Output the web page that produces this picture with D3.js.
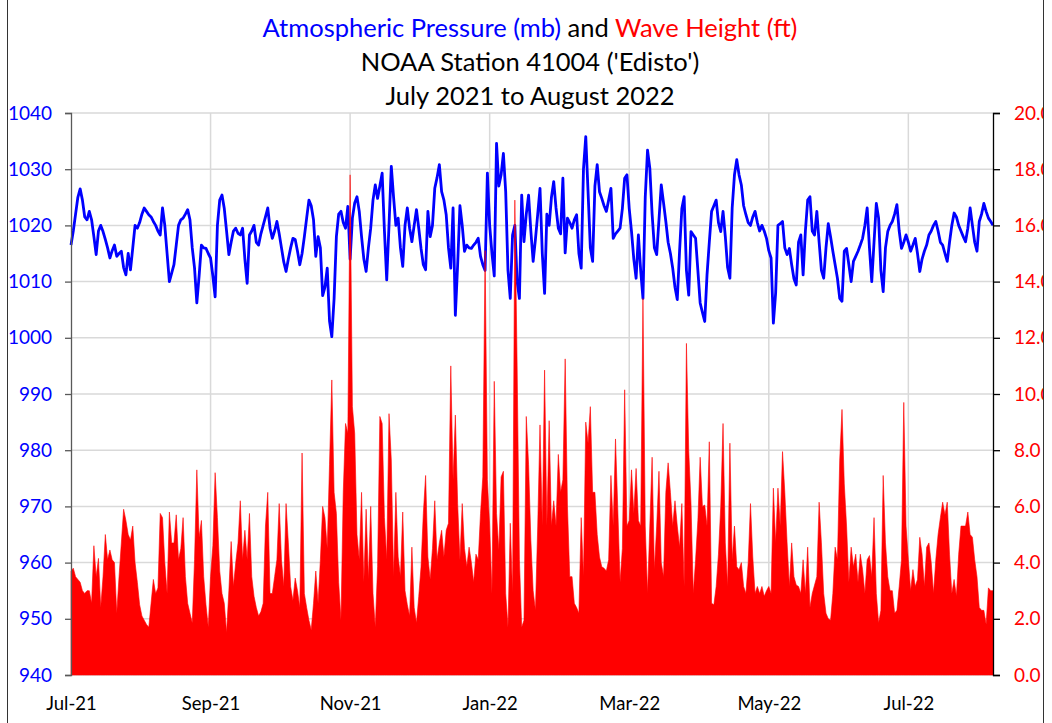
<!DOCTYPE html>
<html>
<head>
<meta charset="utf-8">
<script src="https://cdn.jsdelivr.net/npm/d3@7/dist/d3.min.js"></script>
<style>
  html, body { margin: 0; padding: 0; background: #fff; }
  svg { display: block; }
  text { font-family: Lato, "Noto Sans", sans-serif; }
</style>
</head>
<body>
<svg id="chart" width="1052" height="723"></svg>
<script>
// Daily readings at NOAA buoy 41004, day 0 = 1 July 2021
const pressureMb = [
1016.5,1019,1022,1025,1026.5,1024.5,1021.5,1021,1022.5,1021,1018,1014.8,1019,1020,1018.9,1017.5,1016,1014.2,1015.5,1016.5,
1014.5,1015,1015.4,1012.5,1011.2,1015,1012.1,1016,1020,1019.5,1020.5,1022,1023.1,1022.5,1021.9,1021.5,1020.7,1020,1019,1018.3,
1023.1,1020,1015,1010,1011.5,1013,1016.5,1020,1021,1021.3,1022,1022.8,1021,1016,1012.4,1006.2,1011,1016.5,1016,1015.9,
1015,1014.2,1011,1007.3,1020,1024.5,1025.4,1023,1019,1014.8,1017,1019,1019.5,1018.6,1018.3,1019.5,1014,1009.7,1018.3,1019,
1020,1017,1016.5,1018.5,1020,1021.5,1023.1,1019.5,1017.7,1019,1020.7,1018.5,1016,1013.5,1011.8,1014,1016,1017.7,1017.5,1015.4,
1013,1015,1018,1021.3,1024.5,1023.5,1021,1014.5,1018,1016,1007.5,1009,1012.4,1003,1000.2,1007,1018,1022,1022.5,1020.5,
1019.5,1023.4,1014,1021.3,1024,1025.1,1022.5,1018,1014,1011.8,1016,1019.5,1024.5,1027.2,1024.8,1027,1029.3,1019,1010.3,1020,
1030.5,1025,1020,1021.3,1016,1012.7,1020,1023.1,1019.5,1017.1,1020,1022.8,1019.5,1015.9,1013,1012.1,1022.5,1018,1020,1026.6,
1028.5,1030.8,1026,1024.5,1021.9,1016,1012.4,1023.1,1004,1013,1023.5,1020,1015.4,1016.5,1016,1015.9,1016.5,1017,1017.7,1014.5,
1013,1012,1029.3,1020,1015,1011,1034.6,1027,1029,1032.8,1026,1012,1007,1018.3,1020,1010,1007,1025.4,1017.1,1022,
1025.4,1019,1013.6,1017.5,1022,1026.6,1015,1007.9,1022,1020,1025,1027.8,1023.1,1019.5,1018.5,1028.4,1015.1,1021.3,1020.5,1019.5,
1021,1021.9,1015,1012.4,1030,1035.8,1026,1016,1013.6,1027,1030.8,1026,1024.8,1023.5,1022.5,1024.5,1026.6,1017.7,1018.5,1019,
1019.5,1023,1028.4,1029,1023,1018.9,1014,1010.6,1018.3,1012,1007,1025,1033.4,1030.2,1022,1016,1014.8,1021,1027.2,1024,
1020.7,1017,1015,1012.4,1009,1006.8,1015.4,1023,1025.1,1012,1007.6,1018.9,1018.3,1017.7,1012,1006.2,1004.5,1002.9,1011.2,1017,
1022.5,1023.5,1024.5,1020.5,1018.9,1022.5,1018,1012.5,1010.6,1023.1,1029,1031.7,1029,1027.2,1023.5,1021.9,1020.5,1020,1021.5,1022.5,
1020.5,1019,1020,1019,1017.7,1015.5,1014.2,1002.6,1008,1020,1020.3,1020.7,1016,1014.8,1015.9,1013,1010.5,1009.4,1017,1018.3,
1011.2,1019,1024.5,1025.1,1019,1018.3,1022.5,1017,1012,1010.6,1016,1020.3,1018,1015.4,1013,1010.6,1007,1006.5,1015.4,1015.9,
1013,1010,1013.6,1014.5,1015.4,1016.5,1017.7,1020,1023.1,1016,1010,1017,1023.9,1021.3,1012,1008.2,1016,1018.9,1020,1020.7,
1022,1023.7,1019,1015.9,1017,1018.3,1017,1015.4,1016.5,1017.7,1015,1011.8,1014,1015.4,1016.5,1018.3,1019,1020,1020.7,1019,
1017,1016.5,1015,1013.6,1017,1020,1022.2,1021.5,1020,1019,1018,1017.1,1019.5,1023.1,1020,1017,1015.4,1020.7,1022,1023.9,
1022.5,1021.3,1020.7,1020
];

const waveFt = [
3.7,3.8,3.5,3.4,3.3,3.0,2.9,3.0,3.0,2.55,4.6,3.5,4.15,2.4,3.5,5.0,4.1,4.45,4.1,4.0,
2.2,3.5,4.7,5.9,5.5,5.0,4.8,5.3,4.0,3.3,2.5,2.1,1.95,1.8,1.7,2.55,3.4,2.9,3.1,5.75,
5.6,4.0,2.9,5.8,4.7,4.7,5.7,4.1,4.5,5.6,3.5,2.55,2.2,1.85,4.1,7.3,4.9,5.5,3.5,2.5,
1.7,3.5,4.6,7.2,5.6,3.7,2.9,2.55,1.5,3.0,4.75,3.15,4.0,4.7,6.2,4.1,5.15,4.1,5.75,3.5,
2.8,2.4,2.1,2.25,2.55,5.3,6.5,2.9,2.9,3.5,4.1,6.1,4.1,3.15,6.1,4.7,3.15,2.65,3.45,3.0,
2.4,7.9,2.9,2.4,1.95,1.6,2.55,3.7,2.55,4.1,6.0,5.6,4.5,7.5,10.5,6.5,5.75,3.3,1.95,6.5,
8.95,8.6,17.8,9.55,8.6,5.0,4.1,6.5,3.3,5.9,3.4,6.0,2.9,1.7,3.85,9.2,8.95,5.6,4.1,9.3,
7.65,3.5,6.5,4.2,3.5,5.8,3.0,2.5,2.1,4.55,2.4,1.85,2.8,3.85,5.75,7.1,4.2,3.4,4.5,6.2,
4.1,4.7,5.15,4.2,5.15,5.4,11.0,6.95,9.25,6.1,4.1,6.1,4.5,3.85,4.55,4.0,3.3,4.3,4.1,5.75,
7.05,15.1,6.95,5.3,2.9,10.45,5.75,4.45,7.05,7.25,2.9,1.7,5.4,2.9,16.9,11.0,4.1,1.7,1.95,9.2,
7.5,4.8,3.0,2.3,5.3,8.9,5.3,10.85,5.3,9.05,5.3,6.2,5.3,7.85,6.5,6.95,11.25,6.0,3.5,3.5,
2.55,2.4,2.2,5.6,3.5,9.0,8.25,9.55,6.5,6.5,5.0,4.2,3.85,3.8,3.7,4.1,7.1,5.3,8.4,5.9,
3.3,4.5,10.15,5.3,5.5,7.3,5.75,7.35,5.5,5.3,13.4,5.3,2.9,5.3,7.75,3.75,5.3,7.25,4.0,3.5,
6.5,7.55,6.5,5.3,6.2,5.3,4.55,6.1,3.15,11.8,8.0,6.1,2.9,4.1,5.5,7.75,6.0,6.05,5.3,8.3,
2.55,2.5,3.15,4.3,6.0,8.95,4.7,3.15,8.25,4.1,5.3,3.85,3.75,4.0,3.15,2.9,4.0,6.1,4.2,2.9,
3.15,2.9,3.15,2.8,3.0,3.15,2.9,6.65,4.7,6.65,5.3,7.95,6.5,4.7,3.15,4.7,3.5,3.2,3.15,2.9,
4.1,2.9,4.55,2.4,2.9,3.2,3.5,6.15,4.7,2.9,2.2,2.0,1.95,2.9,4.55,4.1,7.65,9.45,6.8,5.3,
3.3,4.55,3.85,4.3,3.3,4.3,3.75,2.9,4.1,4.25,3.5,5.6,2.9,1.85,2.3,7.1,4.7,3.5,3.0,3.0,
2.2,2.3,3.15,4.1,9.7,5.3,4.1,3.0,3.75,3.15,3.4,4.9,4.3,3.15,4.55,4.7,4.0,2.9,4.1,5.0,
5.6,6.15,5.7,6.15,4.3,2.9,3.4,2.8,4.3,5.3,5.3,5.3,5.8,5.0,4.9,4.1,3.5,2.4,2.3,2.3,
1.8,3.1,3.0,3.0
];

// x-axis labels every 61 days from the start of the record
const xTickDays = [0, 61, 122, 183, 244, 305, 366];
const xTickLabels = ["Jul-21", "Sep-21", "Nov-21", "Jan-22", "Mar-22", "May-22", "Jul-22"];
const pressureTicks = [940, 950, 960, 970, 980, 990, 1000, 1010, 1020, 1030, 1040];
const waveTicks = [0, 2, 4, 6, 8, 10, 12, 14, 16, 18, 20];
const lastDay = 403;

const svg = d3.select("#chart");
const W = 1052, H = 723;
const m = { left: 71, right: 993, top: 113, bottom: 675 };

const x = d3.scaleLinear().domain([0, lastDay]).range([m.left, m.right]);
const yP = d3.scaleLinear().domain([940, 1040]).range([m.bottom, m.top]);
const yW = d3.scaleLinear().domain([0, 20]).range([m.bottom, m.top]);

const clip = svg.append("defs").append("clipPath").attr("id", "frameClip");
clip.append("rect").attr("x", 7).attr("y", 0).attr("width", 1036).attr("height", H);

const root = svg.append("g").attr("clip-path", "url(#frameClip)");

// gridlines
const grid = root.append("g");
grid.selectAll("line.h").data(pressureTicks).join("line")
  .attr("x1", m.left).attr("x2", m.right)
  .attr("y1", d => yP(d)).attr("y2", d => yP(d))
  .attr("stroke", "#d9d9d9").attr("stroke-width", 1.5);
grid.selectAll("line.v").data(xTickDays.slice(1)).join("line")
  .attr("x1", d => x(d)).attr("x2", d => x(d))
  .attr("y1", m.top).attr("y2", m.bottom)
  .attr("stroke", "#d9d9d9").attr("stroke-width", 1.5);

// pressure line
const pLine = d3.line().x((d, i) => x(i)).y(d => yP(d));
root.append("path").datum(pressureMb)
  .attr("d", pLine)
  .attr("fill", "none").attr("stroke", "#0000ff").attr("stroke-width", 2.8)
  .attr("stroke-linejoin", "round");

// wave height area
const wArea = d3.area().x((d, i) => x(i)).y0(yW(0)).y1(d => yW(d));
root.append("path").datum(waveFt)
  .attr("d", wArea)
  .attr("fill", "#ff0000").attr("stroke", "#ff0000").attr("stroke-width", 0.6);

// left axis
const leftAxis = d3.axisLeft(yP).tickValues(pressureTicks).tickSize(6).tickPadding(13).tickFormat(d3.format("d"));
const gl = root.append("g").attr("transform", `translate(${m.left},0)`).call(leftAxis);
gl.select(".domain").attr("stroke", "#595959").attr("stroke-width", 1.3);
gl.selectAll(".tick line").attr("stroke", "#595959").attr("stroke-width", 1.3);
gl.selectAll(".tick text").attr("fill", "#0000ff").style("font-size", "19px");

// right axis
const rightAxis = d3.axisRight(yW).tickValues(waveTicks).tickSize(7).tickPadding(14).tickFormat(d3.format(".1f"));
const gr = root.append("g").attr("transform", `translate(${m.right},0)`).call(rightAxis);
gr.select(".domain").attr("stroke", "#000").attr("stroke-width", 1.3);
gr.selectAll(".tick line").attr("stroke", "#000").attr("stroke-width", 1.3);
gr.selectAll(".tick text").attr("fill", "#ff0000").style("font-size", "19px");

// bottom axis
const bottomAxis = d3.axisBottom(x).tickValues(xTickDays).tickSize(0).tickPadding(22)
  .tickFormat((d, i) => xTickLabels[i]);
const gb = root.append("g").attr("transform", `translate(0,${m.bottom})`).call(bottomAxis);
gb.select(".domain").remove();
gb.selectAll(".tick text").attr("fill", "#000").style("font-size", "18.5px");

// titles
const titleSize = "25.5px";
const t1 = root.append("text").attr("x", 530).attr("y", 37).attr("text-anchor", "middle").style("font-size", titleSize);
t1.append("tspan").attr("fill", "#0000ff").text("Atmospheric Pressure (mb)");
t1.append("tspan").attr("fill", "#000").text(" and ");
t1.append("tspan").attr("fill", "#ff0000").text("Wave Height (ft)");
root.append("text").attr("x", 530).attr("y", 71).attr("text-anchor", "middle").style("font-size", titleSize)
  .attr("fill", "#000").text("NOAA Station 41004 ('Edisto')");
root.append("text").attr("x", 530).attr("y", 105).attr("text-anchor", "middle").style("font-size", titleSize)
  .attr("fill", "#000").text("July 2021 to August 2022");

// frame edges
svg.append("line").attr("x1", 7.5).attr("x2", 7.5).attr("y1", 0).attr("y2", H).attr("stroke", "#333").attr("stroke-width", 1);
svg.append("line").attr("x1", 1043.5).attr("x2", 1043.5).attr("y1", 0).attr("y2", H).attr("stroke", "#333").attr("stroke-width", 1);
</script>
</body>
</html>
